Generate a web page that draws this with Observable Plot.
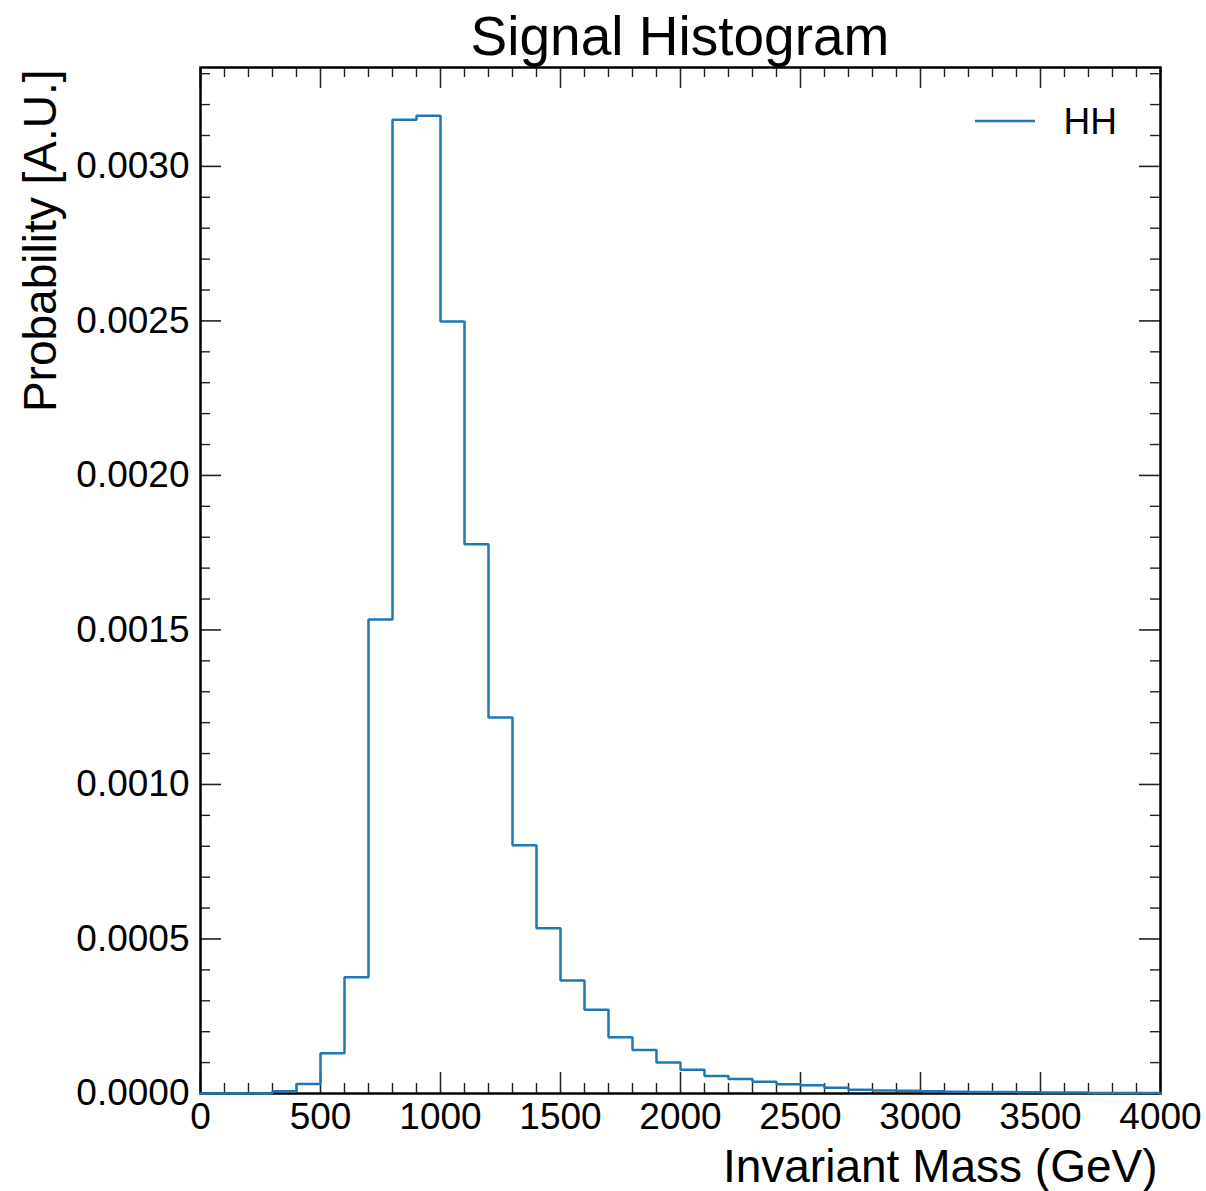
<!DOCTYPE html>
<html><head><meta charset="utf-8">
<script src="https://cdn.jsdelivr.net/npm/d3@7"></script>
<script src="https://cdn.jsdelivr.net/npm/@observablehq/plot@0.6"></script>
<style>
body{margin:0;background:#fff;font-family:"Liberation Sans",Arial,sans-serif;}
#title{height:60px;width:960px;margin-left:200px;text-align:center;font-size:55px;line-height:72px;color:#000;white-space:nowrap;overflow:visible;}
#chart svg{display:block}
</style></head><body>
<div id="title">Signal Histogram</div>
<div id="chart"></div>
<script>
// Bin edges (GeV)
const binEdges = [0,100,200,300,400,500,600,700,800,900,1000,1100,1200,1300,1400,1500,1600,1700,1800,1900,2000,
  2100,2200,2300,2400,2500,2600,2700,2800,2900,3000,3100,3200,3300,3400,3500,3600,3700,3800,3900,4000];
// Probability per bin (A.U.)
const probability = [0,0,0,0.000007,0.000031,0.000130,0.000376,0.001534,0.003151,0.003164,
  0.002498,0.001777,0.001217,0.000803,0.000535,0.000366,0.000271,0.000182,0.000141,0.000100,
  0.000077,0.000057,0.000047,0.000038,0.000030,0.000027,0.000019,0.000012,0.000010,0.000009,
  0.000007,0.000006,0.000005,0.000005,0.000004,0.000003,0.000003,0.000002,0.000002,0.000002];
const seriesName = "HH";
const xMajorTicks = [0,500,1000,1500,2000,2500,3000,3500,4000];
const yMajorTicks = [0,0.0005,0.0010,0.0015,0.0020,0.0025,0.0030];
const xLabel = "Invariant Mass (GeV)";
const yLabel = "Probability [A.U.]";

const W = 1206, H = 1131;
const mL = 200, mR = 46, mT = 7, mB = 98;
const innerW = W - mL - mR, innerH = H - mT - mB;
const color = "#1f77b4";
const tickColor = "#222";
const majorLen = 21, minorLen = 10;

const xMinorTicks = d3.range(0, 4001, 100).filter(v => v % 500 !== 0);
const yMinorTicks = d3.range(0, 34).map(i => i / 10000).filter(v => Math.round(v * 10000) % 5 !== 0);

const n = probability.length;
const stepPoints = [{x: binEdges[0], y: 0}]
  .concat(probability.map((v, i) => ({x: binEdges[i], y: v})))
  .concat([{x: binEdges[n], y: probability[n - 1]}, {x: binEdges[n], y: 0}]);

const chart = Plot.plot({
  width: W, height: H,
  marginLeft: mL, marginRight: mR, marginTop: mT, marginBottom: mB,
  style: {fontFamily: "'Liberation Sans', Arial, sans-serif", background: "#fff", color: "#000"},
  x: {domain: [0, 4000]},
  y: {domain: [0, 0.00332]},
  marks: [
    // tick marks, inside on all four sides
    Plot.tickX(xMajorTicks, {x: d => d, insetTop: innerH - majorLen, stroke: tickColor, strokeWidth: 1.6}),
    Plot.tickX(xMajorTicks, {x: d => d, insetBottom: innerH - majorLen, stroke: tickColor, strokeWidth: 1.6}),
    Plot.tickX(xMinorTicks, {x: d => d, insetTop: innerH - minorLen, stroke: tickColor, strokeWidth: 1.4}),
    Plot.tickX(xMinorTicks, {x: d => d, insetBottom: innerH - minorLen, stroke: tickColor, strokeWidth: 1.4}),
    Plot.tickY(yMajorTicks, {y: d => d, insetRight: innerW - majorLen, stroke: tickColor, strokeWidth: 1.6}),
    Plot.tickY(yMajorTicks, {y: d => d, insetLeft: innerW - majorLen, stroke: tickColor, strokeWidth: 1.6}),
    Plot.tickY(yMinorTicks, {y: d => d, insetRight: innerW - minorLen, stroke: tickColor, strokeWidth: 1.4}),
    Plot.tickY(yMinorTicks, {y: d => d, insetLeft: innerW - minorLen, stroke: tickColor, strokeWidth: 1.4}),
    Plot.axisX({ticks: xMajorTicks, anchor: "bottom", tickSize: 0, tickPadding: 9, fontSize: 37, tickFormat: d => String(d), label: null}),
    Plot.axisY({ticks: yMajorTicks, anchor: "left", tickSize: 0, tickPadding: 11, fontSize: 37, tickFormat: d3.format(".4f"), label: null}),
    Plot.frame({stroke: "#000", strokeWidth: 2.5}),
    Plot.line(stepPoints, {x: "x", y: "y", curve: "step-after", stroke: color, strokeWidth: 2.5, strokeLinejoin: "miter"}),
    Plot.text([xLabel], {text: d => d, frameAnchor: "bottom-right", textAnchor: "end", lineAnchor: "bottom", dx: -3, dy: 88, fontSize: 46, fill: "#000"}),
    Plot.text([yLabel], {text: d => d, frameAnchor: "top-left", textAnchor: "end", lineAnchor: "bottom", rotate: -90, dx: -145, dy: 2, fontSize: 46, fill: "#000"}),
    Plot.text([seriesName], {text: d => d, frameAnchor: "top-right", textAnchor: "start", lineAnchor: "bottom", dx: -97, dy: 66, fontSize: 37, fill: "#000"})
  ]
});

// legend sample line
d3.select(chart).append("line")
  .attr("x1", W - mR - 185).attr("x2", W - mR - 125)
  .attr("y1", mT + 54).attr("y2", mT + 54)
  .attr("stroke", color).attr("stroke-width", 2.5);

document.getElementById("chart").appendChild(chart);
</script>
</body></html>
